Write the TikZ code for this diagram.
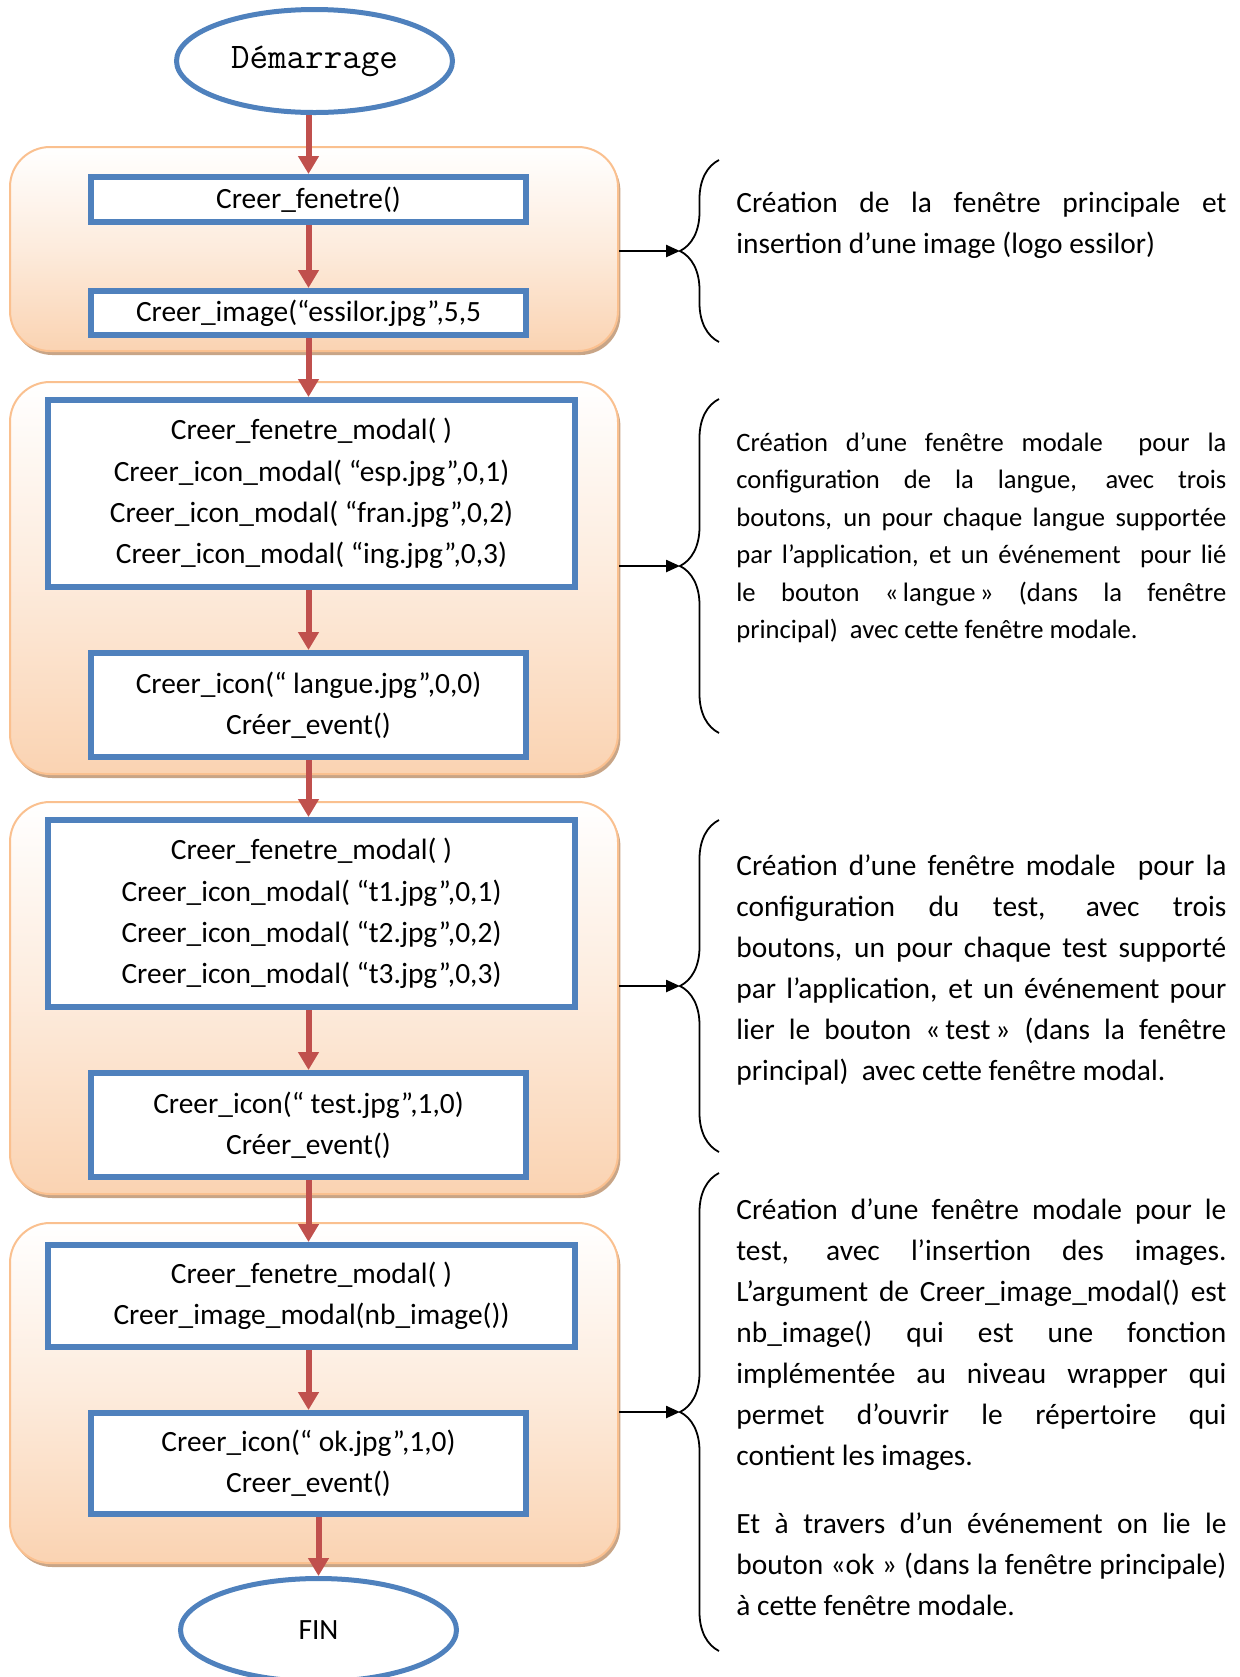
\documentclass[tikz,border=0pt]{standalone}
\usepackage{fontspec}
\setmainfont{Carlito}
\usetikzlibrary{shapes.geometric,arrows.meta,decorations.pathreplacing,shadows}

\definecolor{boxblue}{RGB}{79,129,189}
\definecolor{flowred}{RGB}{192,80,77}
\definecolor{grpborder}{RGB}{250,192,143}
\definecolor{grpfill}{RGB}{250,211,178}
\definecolor{grpshadow}{RGB}{200,165,135}

\tikzset{
  group/.style={draw=grpborder, line width=1pt, rounded corners=20pt,
    top color=white, bottom color=grpfill, middle color=grpfill!45,
    general shadow={fill=grpshadow, shadow xshift=1.2pt, shadow yshift=-2pt}},
  stepbox/.style={draw=boxblue, fill=white, line width=3pt, align=center,
    inner sep=0pt, font=\fontsize{14.7pt}{20.6pt}\selectfont},
  terminal/.style={ellipse, draw=boxblue, fill=white, line width=2.5pt,
    inner sep=0pt, minimum width=138pt, minimum height=51.5pt},
  flow/.style={draw=flowred, line width=3pt, -{Triangle[length=9pt,width=10pt]}},
  link/.style={line width=1.2pt, -{Triangle[length=7pt,width=6pt]}},
  brace/.style={decorate, decoration={brace, amplitude=19.5pt}, line width=0.9pt},
  comment/.style={anchor=base west, text width=245pt, align=justify, inner sep=0pt,
    font=\fontsize{14.7pt}{20.5pt}\selectfont},
  smallcomment/.style={comment, font=\fontsize{13.3pt}{18.75pt}\selectfont}
}

\begin{document}
\begin{tikzpicture}[x=0.5pt, y=-0.5pt]
        \useasboundingbox (0,0) rectangle (1239,1677);

        \node [group, minimum width=304pt, minimum height=102pt] (g1) at (314,249) {};
        \node [group, minimum width=304pt, minimum height=196pt] (g2) at (314,578) {};
        \node [group, minimum width=304pt, minimum height=196pt] (g3) at (314,998) {};
        \node [group, minimum width=304pt, minimum height=170pt] (g4) at (314,1393) {};

        \node [terminal, font=\ttfamily\fontsize{18pt}{20pt}\selectfont] (start) at (314.5,61) {Démarrage};

        \node [stepbox, minimum width=217.5pt, minimum height=22.5pt] (b1) at (308.5,199.5) {Creer\_fenetre()};
        \node [stepbox, minimum width=217.5pt, minimum height=22pt] (b2) at (308.5,313) {Creer\_image(“essilor.jpg”,5,5};

        \node [stepbox, minimum width=263.5pt, minimum height=93.5pt] (b3) at (311.5,493.5)
          {Creer\_fenetre\_modal( )\\ Creer\_icon\_modal( “esp.jpg”,0,1)\\ Creer\_icon\_modal( “fran.jpg”,0,2)\\ Creer\_icon\_modal( “ing.jpg”,0,3)};
        \node [stepbox, minimum width=217.5pt, minimum height=52pt] (b4) at (308.5,705)
          {Creer\_icon(“ langue.jpg”,0,0)\\ Créer\_event()};

        \node [stepbox, minimum width=263.5pt, minimum height=93.5pt] (b5) at (311.5,913.5)
          {Creer\_fenetre\_modal( )\\ Creer\_icon\_modal( “t1.jpg”,0,1)\\ Creer\_icon\_modal( “t2.jpg”,0,2)\\ Creer\_icon\_modal( “t3.jpg”,0,3)};
        \node [stepbox, minimum width=217.5pt, minimum height=52pt] (b6) at (308.5,1125)
          {Creer\_icon(“ test.jpg”,1,0)\\ Créer\_event()};

        \node [stepbox, minimum width=263.5pt, minimum height=51pt] (b7) at (311.5,1296)
          {Creer\_fenetre\_modal( )\\ Creer\_image\_modal(nb\_image())};
        \node [stepbox, minimum width=217.5pt, minimum height=50.5pt] (b8) at (308.5,1463.5)
          {Creer\_icon(“ ok.jpg”,1,0)\\ Creer\_event()};

        \node [terminal, font=\fontsize{14.7pt}{18pt}\selectfont] (fin) at (318.5,1630) {FIN};

        \draw [flow] (start.south -| b1.north) -- (b1.north);
        \draw [flow] (b1) -- (b2);
        \draw [flow] (b2.south) -- (b2.south |- b3.north);
        \draw [flow] (b3.south -| b4.north) -- (b4.north);
        \draw [flow] (b4.south) -- (b4.south |- b5.north);
        \draw [flow] (b5.south -| b6.north) -- (b6.north);
        \draw [flow] (b6.south) -- (b6.south |- b7.north);
        \draw [flow] (b7.south -| b8.north) -- (b8.north);
        \draw [flow] (b8.south -| fin.north) -- (fin.north);

        \coordinate (t1) at (680,251);
        \coordinate (t2) at (680,566);
        \coordinate (t3) at (680,986);
        \coordinate (t4) at (680,1412);

        \draw [brace] (719,342) -- (719,160);
        \draw [brace] (719,733) -- (719,399);
        \draw [brace] (719,1152) -- (719,820);
        \draw [brace] (719,1651) -- (719,1173);

        \draw [link] (g1.east |- t1) -- (t1);
        \draw [link] (g2.east |- t2) -- (t2);
        \draw [link] (g3.east |- t3) -- (t3);
        \draw [link] (g4.east |- t4) -- (t4);

        \node [comment] (c1) at (736,212)
          {Création de la fenêtre principale et\linebreak insertion d’une image (logo essilor)};
        \node [smallcomment] (c2) at (736,451)
          {Création d’une fenêtre modale \ pour la\linebreak configuration de la langue, avec trois\linebreak boutons, un pour chaque langue supportée\linebreak par l’application, et un événement \ pour lié\linebreak le bouton «\,langue\,» (dans la fenêtre\linebreak principal) \ avec cette fenêtre modale.};
        \node [comment] (c3) at (736,875)
          {Création d’une fenêtre modale \ pour la\linebreak configuration du test, avec trois\linebreak boutons, un pour chaque test supporté\linebreak par l’application, et un événement pour\linebreak lier le bouton «\,test\,» (dans la fenêtre\linebreak principal) \ avec cette fenêtre modal.};
        \node [comment] (c4) at (736,1219)
          {Création d’une fenêtre modale pour le\linebreak test, avec l’insertion des images.\linebreak L’argument de Creer\_image\_modal() est\linebreak nb\_image() qui est une fonction\linebreak implémentée au niveau wrapper qui\linebreak permet d’ouvrir le répertoire qui\linebreak contient les images.\par\vspace{13.5pt}
           Et à travers d’un événement on lie le\linebreak bouton «ok » (dans la fenêtre principale)\linebreak à cette fenêtre modale.};
      \end{tikzpicture}
\end{document}
